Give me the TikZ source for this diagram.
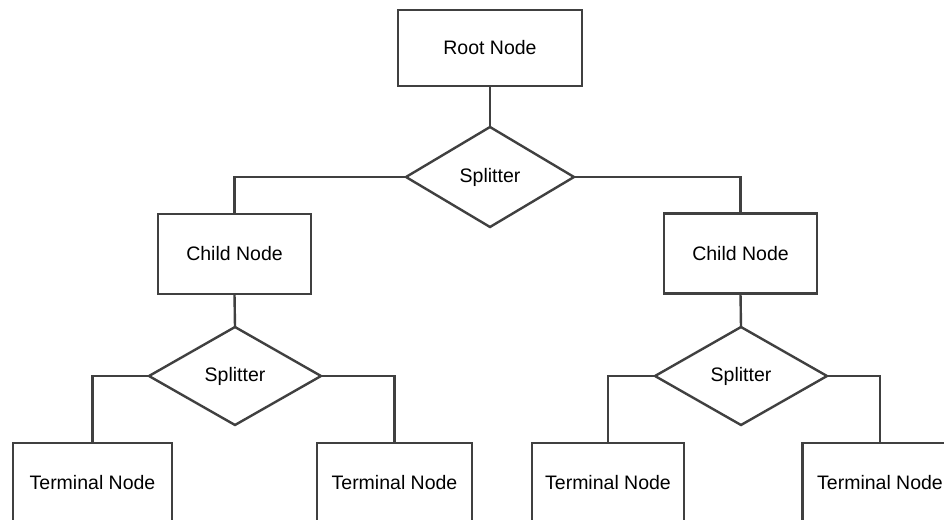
\documentclass[tikz,border=0pt]{standalone}
\usepackage{fontspec}
\setmainfont{Liberation Sans}
\usetikzlibrary{shapes.geometric}
\definecolor{edgegray}{HTML}{404040}
\tikzset{
  box/.style={draw=edgegray, line width=2.4pt, rectangle, fill=white, inner sep=0pt, outer sep=0pt,
    minimum width=#1, minimum height=80pt, font=\fontsize{19.5}{23}\selectfont},
  box/.default=153pt,
  splitbox/.style={draw=edgegray, line width=2.4pt, diamond, fill=white, inner sep=0pt, outer sep=0pt,
    minimum width=172pt, minimum height=98pt, font=\fontsize{19.5}{23}\selectfont},
  link/.style={draw=edgegray, line width=2.4pt}
}
\begin{document}
\begin{tikzpicture}[x=1pt,y=-1pt]
\useasboundingbox (0,0) rectangle (944,519);
\clip (0,0) rectangle (944,519);
\fill[white] (0,0) rectangle (944,519);
\node[box=184pt, minimum height=76pt] (root) at (490,48) {Root Node};
\node[splitbox, minimum width=168pt, minimum height=100pt] (split) at (490,177) {Splitter};
\node[box] (childL) at (234.5,254) {Child Node};
\node[box] (childR) at (740.5,253.5) {Child Node};
\node[splitbox] (splitL) at (235,376) {Splitter};
\node[splitbox] (splitR) at (741,376) {Splitter};
\node[box=159pt] (tLL) at (92.5,483) {Terminal Node};
\node[box=155pt] (tLR) at (394.5,483) {Terminal Node};
\node[box=152pt] (tRL) at (608,483) {Terminal Node};
\node[box=155pt] (tRR) at (880,483) {Terminal Node};
\draw[link] (root.south) -- (split.north);
\draw[link] (split.west) -| (childL.north);
\draw[link] (split.east) -| (childR.north);
\draw[link] (childL.south) -- (splitL.north);
\draw[link] (childR.south) -- (splitR.north);
\draw[link] (splitL.west) -| (tLL.north);
\draw[link] (splitL.east) -| (tLR.north);
\draw[link] (splitR.west) -| (tRL.north);
\draw[link] (splitR.east) -| (tRR.north);
\end{tikzpicture}
\end{document}
